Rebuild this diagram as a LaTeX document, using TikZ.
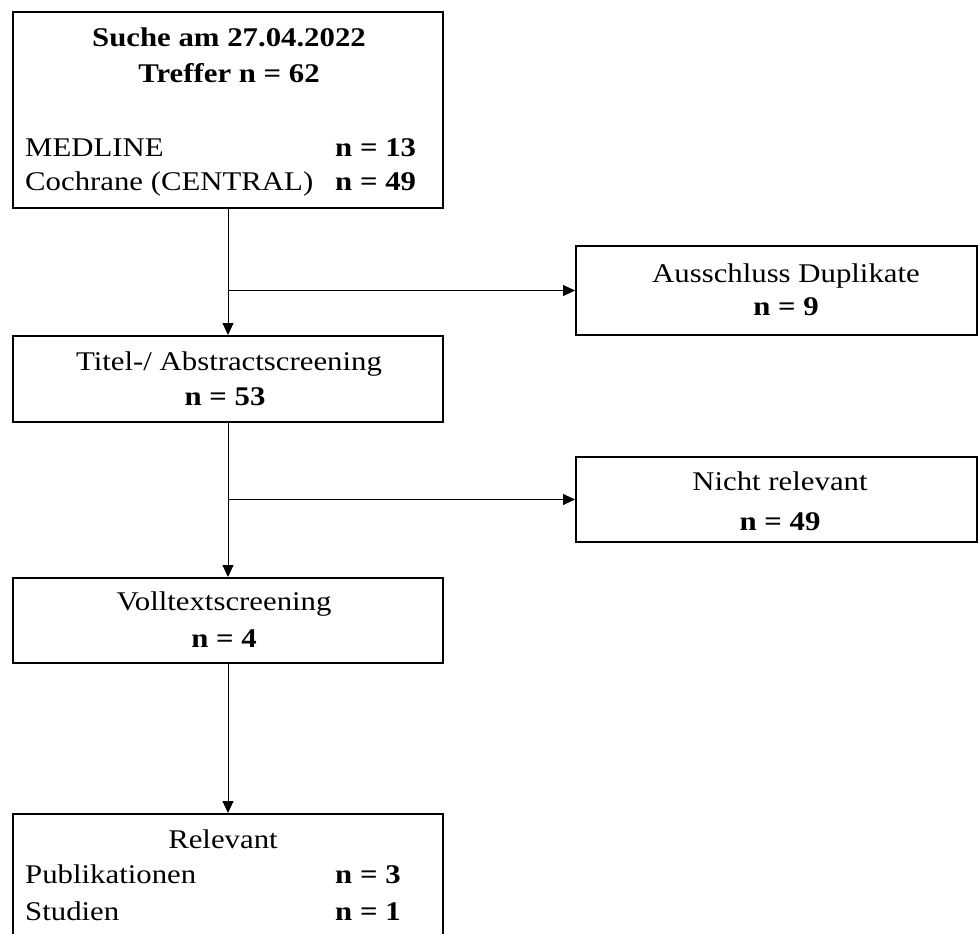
\documentclass[tikz,border=0pt]{standalone}
\usepackage{fontspec}
\setmainfont{Liberation Serif}[FakeStretch=1.14]
\usetikzlibrary{arrows.meta}

\begin{document}
\begin{tikzpicture}[x=1pt, y=-1pt,
        box/.style={draw, line width=2pt, inner sep=0pt, anchor=north west},
        txt/.style={inner sep=0pt, anchor=base, font=\fontsize{27}{30}\selectfont},
        lft/.style={txt, anchor=base west},
        num/.style={font=\fontsize{27}{30}\selectfont\bfseries},
        arr/.style={line width=1pt, -{Triangle[length=12pt, width=11pt]}}]
        \clip (0,0) rectangle (978,934);
        \fill[white] (0,0) rectangle (978,934);
        % boxes
        \node[box, minimum width=430pt, minimum height=196pt] (suche) at (12,11) {};
        \node[box, minimum width=401pt, minimum height=89pt] (dupl) at (575,245) {};
        \node[box, minimum width=430pt, minimum height=86pt] (titel) at (12,335) {};
        \node[box, minimum width=401pt, minimum height=85pt] (nicht) at (575,456) {};
        \node[box, minimum width=430pt, minimum height=85pt] (voll) at (12,577) {};
        \node[box, minimum width=430pt, minimum height=140pt] (relev) at (12,813) {};
        % texts
        \node[txt, num] (suche1) at (229,47) {Suche am 27.04.2022};
        \node[txt, num] (suche2) at (229,83) {Treffer n = 62};
        \node[lft] (med) at (25,157) {MEDLINE};
        \node[lft, num] (medn) at (335,157) {n = 13};
        \node[lft] (coch) at (25,190) {Cochrane (CENTRAL)};
        \node[lft, num] (cochn) at (335,190) {n = 49};
        \node[txt] (dupl1) at (786,282) {Ausschluss Duplikate};
        \node[txt, num] (dupl2) at (786,315) {n = 9};
        \node[txt] (titel1) at (229,370) {Titel-/ Abstractscreening};
        \node[txt, num] (titel2) at (225,405) {n = 53};
        \node[txt] (nicht1) at (780,490) {Nicht relevant};
        \node[txt, num] (nicht2) at (780,530) {n = 49};
        \node[txt] (voll1) at (224,610) {Volltextscreening};
        \node[txt, num] (voll2) at (224,647) {n = 4};
        \node[txt] (relev1) at (223,848) {Relevant};
        \node[lft] (pub) at (25,883) {Publikationen};
        \node[lft, num] (pubn) at (335,883) {n = 3};
        \node[lft] (stud) at (25,920) {Studien};
        \node[lft, num] (studn) at (335,920) {n = 1};
        % connectors
        \coordinate (b1) at (suche.south |- dupl.west);
        \coordinate (b2) at (titel.south |- nicht.west);
        \draw[arr] (suche.south) -- (suche.south |- titel.north);
        \draw[arr] (b1) -- (dupl.west);
        \draw[arr] (titel.south) -- (titel.south |- voll.north);
        \draw[arr] (b2) -- (nicht.west);
        \draw[arr] (voll.south) -- (voll.south |- relev.north);
\end{tikzpicture}
\end{document}
